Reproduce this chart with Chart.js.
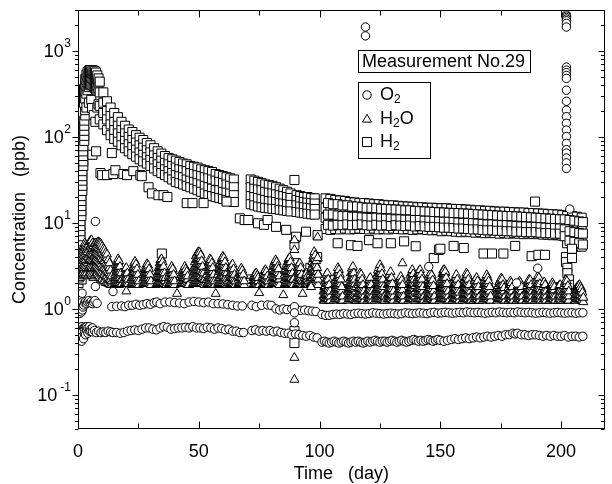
<!DOCTYPE html>
<html>
<head>
<meta charset="utf-8">
<script src="https://cdn.jsdelivr.net/npm/chart.js@4.4.0/dist/chart.umd.min.js"></script>
<style>
  html, body { margin: 0; padding: 0; background: #fff; }
  #c { display: block; }
</style>
</head>
<body>
<canvas id="c" width="612" height="484"></canvas>
<script>
// axis ranges and ticks
var xMin = 0, xMax = 218;
var yMin = 0.04, yMax = 3000;
var xMajor = [0, 50, 100, 150, 200];
var xMinor = [25, 75, 125, 175];
var yExponents = [-1, 0, 1, 2, 3];

// rows are [day, reading, reading, ...] in ppb

// H2 (squares)
var h2Rise = [
  [0.2, 2.0, 2.2, 2.5, 2.8, 3.2],
  [0.6, 3.0, 3.6, 4.1, 4.7, 5.4],
  [1.0, 6.1, 7.0, 8.0, 9.2, 10.5],
  [1.4, 12, 13.7, 15.7, 18, 20.5],
  [1.8, 23.5, 27, 31, 35, 40],
  [2.2, 46, 52, 60, 68, 78],
  [2.6, 90, 103, 118, 135, 155],
  [3.0, 178, 205, 235],
  [0.5, 2.4, 3.8], [1.5, 2.2, 2.9]
];
var h2Peak = [
  [2.5, 250, 300, 360],
  [3.0, 280, 340, 410, 470],
  [3.5, 320, 390, 460, 530],
  [4.0, 350, 430, 500, 570],
  [4.5, 380, 460, 530, 590],
  [5.0, 400, 480, 550, 600],
  [5.5, 410, 490, 560, 600],
  [6.0, 400, 480, 550, 595],
  [6.5, 390, 470, 540, 590],
  [7.0, 370, 450, 520, 580],
  [7.5, 350, 430, 500, 560],
  [8.0, 320, 400, 470, 520],
  [8.5, 300, 370, 430, 480],
  [3.5, 220], [4.5, 250], [5.5, 270], [5.8, 217], [6.5, 180], [7.2, 150], [8.0, 220], [8.5, 240]
];
var h2Band = [
  [9, 440, 330, 230, 160], [10.5, 330, 250, 190, 140], [12, 260, 200, 160, 120],
  [13.5, 220, 175, 140, 105], [15, 190, 150, 120, 95], [16.5, 170, 135, 110, 88],
  [18, 150, 120, 100, 80], [19.5, 135, 110, 90, 74], [21, 122, 100, 82, 68],
  [22.5, 114, 92, 76, 63], [24, 105, 86, 71, 59], [25.5, 98, 80, 66, 55],
  [27, 92, 75, 62, 52], [28.5, 85, 70, 58, 49], [30, 80, 66, 54, 46],
  [31.5, 74, 61, 51, 43], [33, 68, 57, 48, 40], [34.5, 64, 53, 45, 38],
  [36, 60, 50, 42, 36], [37.5, 57, 48, 40, 34], [39, 55, 46, 38, 32],
  [40.5, 53, 44, 36, 30], [42, 51, 42, 35, 29], [43.5, 49, 41, 34, 28],
  [45, 48, 40, 32, 27], [46.5, 46, 38, 31, 26], [48, 45, 37, 30, 25],
  [49.5, 44, 36, 29, 24], [51, 42, 35, 28, 23], [52.5, 41, 34, 27, 22],
  [54, 40, 33, 26, 21], [55.5, 39, 32, 25, 20.5], [57, 37, 31, 24, 20],
  [58.5, 36, 30, 24, 19.5], [60, 35, 29, 23, 19], [61.5, 34, 28, 22.5, 18.5],
  [63, 33, 27, 22, 18], [64.5, 32, 26, 21, 17.5],
  [71.5, 32, 26, 20.5, 16.5], [73, 31, 25, 20, 16], [74.5, 30, 24.5, 19.5, 15.5],
  [76, 29, 24, 19, 15.2], [77.5, 28, 23, 18.5, 15], [79, 27.5, 22.5, 18, 14.8],
  [80.5, 27, 22, 17.8, 14.6], [82, 26, 21.5, 17.5, 14.5], [83.5, 25, 21, 17, 14.2],
  [85, 24, 20.5, 16.8, 14], [86.5, 23, 20, 16.5, 13.8], [88, 22, 19.5, 16.2, 13.6],
  [90.5, 21, 18.5, 16, 13.4], [92, 20.5, 18, 15.5, 13.2], [93.5, 20, 17.5, 15.2, 13],
  [95, 20, 17.2, 15, 12.8], [96.5, 19.5, 17, 14.8, 12.6], [98, 19.3, 16.8, 14.5, 12.5],
  [102.5, 19.3, 15, 11.5, 8.5], [104.5, 19, 14.5, 11, 8.3], [106.5, 18.5, 14.5, 11, 8.5],
  [108.5, 18.2, 14, 10.8, 8.4], [110.5, 18, 14, 11, 8.6], [112.5, 17.5, 13.8, 10.5, 8.4],
  [114.5, 17.3, 13.5, 10.5, 8.5], [116.5, 17, 13.5, 10.8, 8.6], [118.5, 17, 13.2, 10.5, 8.5],
  [120.5, 16.8, 13, 10.3, 8.4], [122.5, 16.5, 13, 10.5, 8.6], [124.5, 16.5, 12.8, 10.2, 8.4],
  [126.5, 16.2, 12.8, 10.3, 8.5], [128.5, 16, 12.5, 10, 8.4], [130.5, 16, 12.5, 10.2, 8.6],
  [132.5, 15.8, 12.4, 10, 8.5], [134.5, 15.6, 12.3, 10, 8.4], [136.5, 15.5, 12.2, 10.1, 8.5],
  [138.5, 15.4, 12.2, 9.9, 8.3], [140.5, 15.2, 12, 9.8, 8.4], [142.5, 15.2, 12, 10, 8.5],
  [144.5, 15, 11.8, 9.8, 8.3], [146.5, 15, 11.8, 9.7, 8.2], [148.5, 14.9, 11.6, 9.6, 8.3],
  [150.5, 14.8, 11.5, 9.5, 8], [152.5, 14.8, 11.5, 9.6, 8.1], [154.5, 14.6, 11.4, 9.4, 8],
  [156.5, 14.5, 11.3, 9.3, 7.9], [158.5, 14.5, 11.2, 9.2, 7.8], [160.5, 14.3, 11, 9.2, 7.9],
  [162.5, 14.2, 11, 9, 7.8], [164.5, 14, 10.8, 9, 7.7], [166.5, 14, 10.8, 8.9, 7.8],
  [168.5, 13.8, 10.6, 8.8, 7.6], [170.5, 13.8, 10.5, 8.8, 7.7], [172.5, 13.6, 10.5, 8.7, 7.6],
  [174.5, 13.5, 10.4, 8.6, 7.5], [176.5, 13.5, 10.3, 8.6, 7.6], [178.5, 13.4, 10.2, 8.5, 7.5],
  [180.5, 13.3, 10.2, 8.5, 7.6], [182.5, 13.2, 10, 8.4, 7.5], [184.5, 13.2, 10, 8.4, 7.4],
  [186.5, 13, 9.9, 8.3, 7.5], [188.5, 13, 9.8, 8.2, 7.4], [190.5, 12.9, 9.8, 8.2, 7.5],
  [192.5, 12.8, 9.7, 8.1, 7.3], [194.5, 12.7, 9.6, 8, 7.3], [196.5, 12.6, 9.5, 8, 7.2],
  [198.5, 12.5, 9.5, 7.9, 7.2], [200.5, 12.3, 9.4, 7.8, 7.1], [202.5, 12, 9, 7, 5.8],
  [204.5, 12, 8.8, 6.8, 5.5], [206.5, 11.8, 8.6, 6.6, 5.3], [208.5, 11.5, 8.5, 6.5, 5.3]
];
var h2BandMid = [
  [103.5, 17, 12.5, 9.5], [105.5, 16.5, 12.5, 9.3], [107.5, 16.5, 12.2, 9.5], [109.5, 16, 12, 9.4],
  [111.5, 16, 12, 9.6], [113.5, 15.5, 11.8, 9.4], [115.5, 15.5, 11.8, 9.5], [117.5, 15.2, 11.6, 9.6],
  [119.5, 15, 11.5, 9.4], [121.5, 15, 11.4, 9.3], [123.5, 14.8, 11.5, 9.5], [125.5, 14.6, 11.3, 9.3],
  [127.5, 14.5, 11.2, 9.4], [129.5, 14.4, 11.2, 9.2], [131.5, 14.3, 11, 9.4], [133.5, 14.2, 11, 9.3],
  [135.5, 14, 10.9, 9.2], [137.5, 14, 10.9, 9.3], [139.5, 13.8, 10.8, 9.1], [141.5, 13.7, 10.8, 9.2],
  [143.5, 13.6, 10.6, 9.1], [145.5, 13.5, 10.6, 9], [147.5, 13.4, 10.5, 9], [149.5, 13.3, 10.4, 8.9],
  [151.5, 13.2, 10.3, 8.8], [153.5, 13.1, 10.3, 8.8], [155.5, 13, 10.2, 8.7], [157.5, 13, 10.1, 8.6],
  [159.5, 12.9, 10, 8.6], [161.5, 12.8, 10, 8.5], [163.5, 12.7, 9.9, 8.4], [165.5, 12.6, 9.8, 8.4],
  [167.5, 12.5, 9.7, 8.3], [169.5, 12.4, 9.6, 8.2], [171.5, 12.3, 9.6, 8.2], [173.5, 12.2, 9.5, 8.1],
  [175.5, 12.1, 9.4, 8.1], [177.5, 12, 9.4, 8], [179.5, 12, 9.3, 8], [181.5, 11.9, 9.2, 7.9],
  [183.5, 11.8, 9.1, 7.9], [185.5, 11.7, 9.1, 7.8], [187.5, 11.6, 9, 7.8], [189.5, 11.5, 9, 7.8],
  [191.5, 11.4, 8.9, 7.7], [193.5, 11.3, 8.8, 7.6], [195.5, 11.2, 8.7, 7.6], [197.5, 11.1, 8.7, 7.5],
  [199.5, 11, 8.6, 7.5], [201.5, 11, 8.4, 7], [203.5, 10.8, 8, 6.2], [205.5, 10.6, 7.8, 6],
  [207.5, 10.4, 7.6, 5.8], [209, 10.2, 7.5, 5.6]
];
var h2Low = [
  [6, 62], [7.5, 68], [14, 65], [9.3, 38], [10, 36], [12, 36], [14.6, 37], [15.5, 41],
  [18.8, 37], [20.3, 36], [22.9, 40], [25.8, 36], [26.4, 35], [29.2, 26], [30.6, 22],
  [33.3, 21], [35.4, 21], [37, 20], [45, 17], [47.4, 17], [52, 17], [61.5, 17.7],
  [67, 11.3], [69, 10.8], [70.5, 10.8], [74.5, 9.9], [77, 9.5], [78.5, 10.8], [82, 9],
  [86.2, 8.3], [90.3, 6.9], [94.4, 7.9], [99.2, 7.2], [107.5, 5.8], [113, 5.5], [115.7, 5.4],
  [120.5, 6.3], [124, 5.8], [129.5, 5.8], [135, 6.1], [139.8, 5.35], [147.3, 3.9], [149.4, 4.85],
  [150, 5], [155.5, 5.4], [159.7, 5.1], [167.9, 4.4], [171.4, 4.4], [176.1, 4.4], [181, 5.4],
  [187.8, 4.1], [190.6, 4.25], [193.3, 4.25]
];
var h2Base = [
  [9.3, 3.4], [13, 2.3, 2.05], [17, 2.2, 2.0], [22.5, 2.2, 2.0], [27.5, 2.3, 2.05], [32, 2.2, 2.0],
  [36.5, 2.2, 2.0], [41.5, 2.3, 2.05], [46, 2.2, 2.0], [50, 2.3, 2.05], [54.5, 2.2, 2.0],
  [59, 2.2, 2.0], [63.5, 2.3, 2.05], [66, 2.3], [71, 2.2, 2.0], [75.5, 2.2], [80, 2.3, 2.05],
  [85, 2.2, 2.0], [88, 2.0], [93, 2.1],
  [105, 1.6], [110.5, 1.7], [121, 1.8, 1.55], [127.5, 1.6], [133, 1.75, 1.5], [140, 1.6],
  [146.5, 1.8, 1.55], [155, 1.6], [163, 2.0, 1.7], [170, 1.6], [176, 1.9, 1.6], [182, 1.6],
  [188.5, 2.0, 1.7], [195, 1.6], [200, 1.8, 1.55]
];
var h2Extra = [
  [34.7, 4.4], [89.6, 31.6, 5.55, 3.4, 0.55, 0.4], [96.2, 3.0], [99, 4.0], [189.2, 17.7],
  [202, 4.0, 3.5], [202.6, 3.0, 2.6], [203.2, 2.2, 1.9], [204.5, 3.9, 5.0]
];

// H2O (triangles)
var h2oEarly = [
  [0.4, 2.2, 2.5, 2.8], [0.8, 2.3, 2.7, 3.1, 3.5], [1.2, 2.4, 2.9, 3.4, 3.9],
  [1.6, 2.5, 3.0, 3.6, 4.3], [2.0, 2.6, 3.1, 3.7, 4.4, 5.0], [2.4, 2.5, 3.0, 3.6, 4.2, 4.9, 5.4],
  [2.8, 2.6, 3.2, 3.8, 4.5, 5.2, 5.8], [3.2, 2.5, 3.1, 3.7, 4.4, 5.1, 5.6],
  [3.6, 2.6, 3.0, 3.5, 4.1, 4.8, 5.4], [4.0, 2.4, 2.9, 3.4, 4.0, 4.6, 5.2],
  [4.4, 2.5, 3.0, 3.6, 4.2, 4.9, 5.6], [4.8, 2.6, 3.1, 3.7, 4.4, 5.2, 6.0],
  [5.2, 2.6, 3.2, 3.8, 4.5, 5.3, 6.2], [5.6, 2.5, 3.1, 3.7, 4.4, 5.2, 6.3],
  [6.0, 2.4, 3.0, 3.6, 4.3, 5.0, 5.8], [6.4, 2.3, 2.9, 3.5, 4.1, 4.8, 5.4],
  [6.8, 2.4, 3.0, 3.6, 4.2, 5.0, 5.7], [7.2, 2.5, 3.1, 3.7, 4.4, 5.1, 5.8],
  [7.6, 2.6, 3.2, 3.8, 4.5, 5.3], [8.0, 2.6, 3.1, 3.7, 4.4, 5.2, 5.9],
  [8.4, 2.5, 3.0, 3.6, 4.3, 5.1, 6.0], [8.8, 2.4, 2.9, 3.5, 4.2, 5.0, 5.9],
  [9.2, 2.3, 2.8, 3.4, 4.1, 4.9, 5.8], [9.6, 2.2, 2.7, 3.3, 4.0, 4.8, 5.6],
  [10.0, 2.2, 2.6, 3.1, 3.8, 4.5, 5.3], [10.5, 2.1, 2.5, 3.0, 3.6, 4.3, 5.0],
  [11.0, 2.1, 2.5, 3.0, 3.6, 4.2, 4.8], [11.5, 2.0, 2.4, 2.9, 3.4, 4.0, 4.5],
  [12.0, 2.0, 2.4, 2.8, 3.3, 3.9, 4.3], [12.5, 2.0, 2.3, 2.7, 3.2, 3.7],
  [13.0, 1.95, 2.2, 2.6, 3.0, 3.4], [13.5, 1.9, 2.2, 2.5, 2.8], [14.0, 1.9, 2.1, 2.4],
  [15.0, 1.95, 2.2], [15.4, 1.95, 2.2, 2.5], [15.8, 2.0, 2.3, 2.6, 3.0],
  [16.2, 2.0, 2.3, 2.7, 3.1, 3.5], [16.6, 2.0, 2.3, 2.7, 3.1, 3.5, 3.8],
  [17.0, 2.0, 2.3, 2.7, 3.1, 3.6], [17.4, 2.0, 2.3, 2.7, 3.1], [17.8, 1.95, 2.2, 2.6], [18.2, 1.95, 2.2],
  [19.2, 1.95, 2.2, 2.5], [19.6, 2.0, 2.3, 2.6, 2.9], [20.0, 1.6, 2.0, 2.3, 2.6, 3.0],
  [20.4, 2.0, 2.3, 2.6], [20.8, 1.95, 2.2],
  [22.0, 1.95, 2.2], [22.4, 2.0, 2.3, 2.6], [22.8, 2.0, 2.3, 2.6, 3.0],
  [23.2, 2.0, 2.3, 2.7, 3.1, 3.4], [23.6, 2.0, 2.3, 2.7, 3.1, 3.55], [24.0, 2.0, 2.3, 2.6, 3.0, 3.3],
  [24.4, 2.0, 2.3, 2.6, 2.9], [24.8, 1.95, 2.2, 2.5], [25.2, 1.9, 2.1],
  [27.0, 1.95, 2.2], [27.4, 2.0, 2.3, 2.6], [27.8, 2.0, 2.3, 2.6, 2.9],
  [28.2, 2.0, 2.3, 2.6, 3.0, 3.2], [28.6, 2.0, 2.3, 2.6, 2.9, 3.33], [29.0, 2.0, 2.3, 2.6, 3.0, 3.2],
  [29.4, 2.0, 2.3, 2.6, 2.9], [29.8, 1.95, 2.2, 2.5], [30.2, 1.9, 2.1],
  [32.6, 1.95, 2.2], [33.0, 2.0, 2.3, 2.6], [33.4, 2.0, 2.3, 2.7, 3.0],
  [33.8, 2.0, 2.3, 2.7, 3.1, 3.4], [34.2, 2.0, 2.3, 2.7, 3.1, 3.5, 3.7],
  [34.6, 2.0, 2.3, 2.7, 3.1, 3.5, 3.8], [35.0, 2.0, 2.3, 2.7, 3.1, 3.5],
  [35.4, 2.0, 2.3, 2.7, 3.1], [35.8, 1.95, 2.2, 2.6], [36.2, 1.9, 2.1, 2.3], [36.6, 1.9],
  [37.6, 1.95, 2.2, 2.4], [38.0, 2.0, 2.3, 2.6], [38.4, 2.0, 2.3, 2.6, 2.9],
  [38.8, 2.0, 2.3, 2.6, 2.85, 3.1], [39.2, 2.0, 2.3, 2.6, 2.9], [39.6, 1.95, 2.2, 2.5], [40.0, 1.9, 2.1],
  [41.0, 1.5],
  [42.6, 1.95, 2.2], [43.0, 2.0, 2.3, 2.5], [43.4, 2.0, 2.3, 2.6, 2.8], [43.8, 2.0, 2.3, 2.6, 2.9],
  [44.2, 2.0, 2.3, 2.6, 2.85, 3.1], [44.6, 2.0, 2.3, 2.6, 2.9], [45.0, 1.95, 2.2, 2.5, 2.7],
  [45.4, 1.9, 2.2, 2.4], [45.8, 1.9],
  [47.6, 1.95, 2.2, 2.5], [48.0, 2.0, 2.3, 2.6, 3.0], [48.4, 2.0, 2.3, 2.7, 3.1, 3.5],
  [48.8, 2.0, 2.4, 2.8, 3.2, 3.7, 4.1], [49.2, 2.0, 2.4, 2.8, 3.3, 3.8, 4.3],
  [49.6, 2.0, 2.4, 2.8, 3.3, 3.9, 4.5], [50.0, 2.0, 2.4, 2.8, 3.3, 3.9, 4.6],
  [50.4, 2.0, 2.4, 2.8, 3.3, 3.9, 4.5], [50.8, 2.0, 2.4, 2.8, 3.3, 3.8, 4.2],
  [51.2, 2.0, 2.3, 2.7, 3.2, 3.6], [51.6, 1.95, 2.3, 2.7, 3.1], [52.0, 1.95, 2.2, 2.6], [52.4, 1.9, 2.2],
  [53.4, 1.95, 2.2, 2.5], [53.8, 2.0, 2.3, 2.7, 3.0], [54.2, 2.0, 2.3, 2.7, 3.1, 3.4],
  [54.6, 2.0, 2.3, 2.7, 3.1, 3.5, 3.8], [55.0, 2.0, 2.3, 2.7, 3.1, 3.5, 3.7],
  [55.4, 2.0, 2.3, 2.7, 3.1, 3.4], [55.8, 1.95, 2.3, 2.7, 3.0], [56.2, 1.9, 2.2, 2.5], [56.6, 1.9, 2.1],
  [57.0, 1.5],
  [58.0, 1.95, 2.2, 2.5], [58.4, 2.0, 2.3, 2.7, 3.0], [58.8, 2.0, 2.3, 2.7, 3.1, 3.4],
  [59.2, 2.0, 2.4, 2.8, 3.2, 3.6], [59.6, 2.0, 2.4, 2.8, 3.2, 3.6, 3.9],
  [60.0, 2.0, 2.4, 2.8, 3.2, 3.6, 4.06], [60.4, 2.0, 2.4, 2.8, 3.2, 3.6, 3.9],
  [60.8, 2.0, 2.3, 2.7, 3.1, 3.5], [61.2, 1.95, 2.3, 2.7, 3.0], [61.6, 1.9, 2.2, 2.6], [62.0, 1.9, 2.1],
  [62.8, 1.95, 2.2, 2.5], [63.2, 2.0, 2.3, 2.6, 2.9], [63.6, 2.0, 2.3, 2.6, 3.0, 3.2],
  [64.0, 2.0, 2.3, 2.6, 3.0, 3.3], [64.4, 2.0, 2.3, 2.6, 2.9], [64.8, 1.95, 2.2, 2.5], [65.2, 1.9, 2.1],
  [66.4, 1.95, 2.2, 2.4], [66.8, 2.0, 2.3, 2.6], [67.2, 2.0, 2.3, 2.6, 2.8],
  [67.6, 2.0, 2.3, 2.6, 2.97], [68.0, 2.0, 2.3, 2.6, 2.8], [68.4, 1.95, 2.2, 2.5], [68.8, 1.9, 2.1],
  [72.6, 1.9, 2.1, 2.3], [73.0, 1.9, 2.1, 2.3, 2.45], [73.4, 1.95, 2.15, 2.35, 2.55],
  [73.8, 1.95, 2.15, 2.35, 2.6], [74.2, 1.9, 2.1, 2.3, 2.45], [74.6, 1.9, 2.1, 2.3], [75.0, 1.53, 1.9],
  [76.4, 1.9, 2.1, 2.35], [76.8, 1.95, 2.2, 2.45, 2.6], [77.2, 2.0, 2.25, 2.5, 2.75],
  [77.6, 2.0, 2.25, 2.5, 2.84], [78.0, 1.95, 2.2, 2.45, 2.7], [78.4, 1.9, 2.15, 2.4], [78.8, 1.9, 2.1],
  [80.2, 1.95, 2.2, 2.5], [80.6, 2.0, 2.3, 2.6, 2.9], [81.0, 2.0, 2.3, 2.7, 3.1, 3.3],
  [81.4, 2.0, 2.3, 2.7, 3.1, 3.5], [81.8, 2.0, 2.3, 2.7, 3.1, 3.5, 3.7],
  [82.2, 2.0, 2.3, 2.7, 3.1, 3.5], [82.6, 2.0, 2.3, 2.7, 3.1], [83.0, 1.95, 2.2, 2.6, 2.9],
  [83.4, 1.9, 2.2, 2.4],
  [85.0, 1.45], [85.6, 1.95, 2.2, 2.5], [86.0, 2.0, 2.3, 2.6, 2.9], [86.4, 2.0, 2.3, 2.7, 3.1, 3.3],
  [86.8, 2.0, 2.3, 2.7, 3.1, 3.5], [87.2, 2.0, 2.3, 2.7, 3.1, 3.5, 3.8],
  [87.6, 2.0, 2.3, 2.7, 3.1, 3.5, 3.9], [88.0, 2.0, 2.3, 2.7, 3.1, 3.5],
  [88.4, 2.0, 2.3, 2.7, 3.0], [88.8, 1.95, 2.2, 2.6], [89.2, 1.9, 2.2],
  [90.6, 1.95, 2.2, 2.6], [91.0, 2.0, 2.3, 2.7, 3.0], [91.4, 2.0, 2.3, 2.7, 3.1, 3.3],
  [91.8, 2.0, 2.3, 2.7, 3.1, 3.4], [92.2, 2.0, 2.3, 2.7, 3.0], [92.6, 1.95, 2.2, 2.5],
  [93.0, 1.5, 1.9, 2.1],
  [93.8, 1.9, 2.1, 2.3], [94.2, 1.95, 2.15, 2.4], [94.6, 1.95, 2.2, 2.45, 2.6],
  [95.0, 1.95, 2.2, 2.4], [95.4, 1.9, 2.1],
  [96.2, 1.95, 2.2, 2.5], [96.6, 2.0, 2.3, 2.7, 3.0], [97.0, 2.0, 2.3, 2.7, 3.1, 3.5],
  [97.4, 2.0, 2.4, 2.8, 3.3, 3.8, 4.1], [97.8, 2.0, 2.4, 2.8, 3.3, 3.9, 4.6],
  [98.2, 2.0, 2.4, 2.8, 3.3, 3.8, 4.2], [98.6, 2.0, 2.3, 2.7, 3.2, 3.6],
  [99.0, 1.95, 2.3, 2.7, 3.0], [99.4, 1.9, 2.2, 2.5]
];
var h2oLate = [
  [101.6, 1.25, 1.4, 1.6], [102.0, 1.25, 1.4, 1.6, 1.8], [102.4, 1.3, 1.45, 1.65, 1.85, 2.1],
  [102.8, 1.3, 1.5, 1.7, 1.95, 2.2, 2.5], [103.2, 1.3, 1.5, 1.7, 1.95, 2.25, 2.6],
  [103.6, 1.3, 1.5, 1.7, 1.95, 2.2], [104.0, 1.25, 1.45, 1.65, 1.9], [104.4, 1.25, 1.4, 1.6],
  [106.0, 1.25, 1.4, 1.6], [106.4, 1.3, 1.45, 1.65, 1.9], [106.8, 1.3, 1.5, 1.7, 1.95, 2.2],
  [107.2, 1.3, 1.5, 1.75, 2.0, 2.3, 2.6], [107.6, 1.3, 1.5, 1.75, 2.0, 2.3, 2.65, 3.0],
  [108.0, 1.3, 1.5, 1.75, 2.0, 2.3, 2.6, 2.84], [108.4, 1.3, 1.5, 1.75, 2.0, 2.3, 2.5],
  [108.8, 1.25, 1.45, 1.7, 1.95, 2.2], [109.2, 1.25, 1.4, 1.6, 1.8], [109.6, 1.25, 1.4],
  [111.8, 1.25, 1.4, 1.6], [112.2, 1.3, 1.45, 1.65, 1.9], [112.6, 1.3, 1.5, 1.7, 1.95, 2.2],
  [113.0, 1.3, 1.5, 1.75, 2.0, 2.3, 2.6], [113.4, 1.3, 1.5, 1.75, 2.0, 2.3, 2.65, 2.95],
  [113.8, 1.3, 1.5, 1.75, 2.0, 2.3, 2.65, 3.1], [114.2, 1.3, 1.5, 1.75, 2.0, 2.3, 2.6],
  [114.6, 1.25, 1.45, 1.7, 1.95, 2.2], [115.0, 1.25, 1.4, 1.6, 1.8], [115.4, 1.25, 1.4],
  [116.0, 1.3, 1.5, 1.7, 1.9], [116.4, 1.3, 1.5, 1.75, 2.0, 2.3], [116.8, 1.3, 1.5, 1.75, 2.0, 2.3, 2.6],
  [117.2, 1.3, 1.5, 1.75, 2.0, 2.3, 2.5], [117.6, 1.3, 1.5, 1.7, 1.95, 2.2],
  [118.0, 1.25, 1.45, 1.65, 1.9], [118.4, 1.25, 1.4, 1.6],
  [119.8, 1.25, 1.4, 1.6], [120.2, 1.3, 1.45, 1.65, 1.9], [120.6, 1.3, 1.5, 1.7, 1.95, 2.2],
  [121.0, 1.3, 1.5, 1.7, 1.95, 2.3], [121.4, 1.3, 1.45, 1.65, 1.9], [121.8, 1.25, 1.4, 1.6],
  [123.0, 1.25, 1.4, 1.6], [123.4, 1.3, 1.45, 1.65, 1.9], [123.8, 1.3, 1.5, 1.7, 1.95, 2.2, 2.45],
  [124.2, 1.3, 1.5, 1.75, 2.0, 2.3, 2.6, 2.8], [124.6, 1.3, 1.5, 1.75, 2.0, 2.3, 2.65, 3.0],
  [125.0, 1.3, 1.5, 1.75, 2.0, 2.3, 2.65, 3.25], [125.4, 1.3, 1.5, 1.75, 2.0, 2.3, 2.65, 2.95],
  [125.8, 1.3, 1.5, 1.75, 2.0, 2.3, 2.55], [126.2, 1.25, 1.45, 1.7, 1.95, 2.2],
  [126.6, 1.25, 1.4, 1.6, 1.8], [127.0, 1.25, 1.4],
  [128.2, 1.3, 1.45, 1.65, 1.9], [128.6, 1.3, 1.5, 1.7, 1.95, 2.2], [129.0, 1.3, 1.5, 1.75, 2.0, 2.3, 2.5],
  [129.4, 1.3, 1.5, 1.75, 2.0, 2.3, 2.7], [129.8, 1.3, 1.5, 1.75, 2.0, 2.3],
  [130.2, 1.25, 1.45, 1.7, 1.95], [130.6, 1.25, 1.4, 1.6],
  [132.4, 1.25, 1.4, 1.6], [132.8, 1.3, 1.45, 1.65, 1.9], [133.2, 1.3, 1.5, 1.7, 1.95, 2.2],
  [133.6, 1.3, 1.5, 1.7, 1.95, 2.2, 2.37], [134.0, 1.3, 1.5, 1.7, 1.95, 2.15],
  [134.4, 1.25, 1.45, 1.65, 1.9], [134.8, 1.25, 1.4],
  [136.8, 1.25, 1.4, 1.6], [137.2, 1.3, 1.45, 1.65, 1.9], [137.6, 1.3, 1.5, 1.7, 1.95, 2.2, 2.45],
  [138.0, 1.3, 1.5, 1.75, 2.0, 2.3, 2.6], [138.4, 1.3, 1.5, 1.75, 2.0, 2.3, 2.6, 2.84],
  [138.8, 1.3, 1.5, 1.75, 2.0, 2.3, 2.55], [139.2, 1.25, 1.45, 1.7, 1.95, 2.2],
  [139.6, 1.25, 1.4, 1.6, 1.85],
  [140.4, 1.3, 1.5, 1.7, 1.95, 2.2], [140.8, 1.3, 1.5, 1.75, 2.0, 2.3, 2.55],
  [141.2, 1.3, 1.5, 1.75, 2.0, 2.3, 2.6, 2.75], [141.6, 1.3, 1.5, 1.75, 2.0, 2.3, 2.6, 2.84],
  [142.0, 1.3, 1.5, 1.75, 2.0, 2.3, 2.5], [142.4, 1.25, 1.45, 1.7, 1.95, 2.2],
  [142.8, 1.25, 1.4, 1.6, 1.8], [143.2, 1.25, 1.4],
  [144.4, 1.25, 1.4, 1.6], [144.8, 1.3, 1.45, 1.65, 1.9], [145.2, 1.3, 1.5, 1.7, 1.95, 2.2],
  [145.6, 1.3, 1.5, 1.75, 2.0, 2.3, 2.5], [146.0, 1.3, 1.5, 1.75, 2.0, 2.3, 2.6],
  [146.4, 1.3, 1.5, 1.75, 2.0, 2.3, 2.45], [146.8, 1.25, 1.45, 1.7, 1.95, 2.15],
  [147.2, 1.25, 1.4, 1.6, 1.85], [147.6, 1.25, 1.4],
  [149.6, 1.25, 1.4, 1.6], [150.0, 1.3, 1.45, 1.65, 1.9], [150.4, 1.3, 1.5, 1.7, 1.95, 2.2],
  [150.8, 1.3, 1.5, 1.75, 2.0, 2.3, 2.55], [151.2, 1.3, 1.5, 1.75, 2.0, 2.3, 2.6, 2.8],
  [151.6, 1.3, 1.5, 1.75, 2.0, 2.3, 2.6, 2.84], [152.0, 1.3, 1.5, 1.75, 2.0, 2.3, 2.6, 2.7],
  [152.4, 1.3, 1.5, 1.75, 2.0, 2.3], [152.8, 1.25, 1.45, 1.7, 1.95], [153.2, 1.25, 1.4, 1.6], [153.6, 1.25],
  [155.0, 1.25, 1.4, 1.6], [155.4, 1.3, 1.45, 1.65, 1.9], [155.8, 1.3, 1.5, 1.7, 1.95, 2.2],
  [156.2, 1.3, 1.5, 1.75, 2.0, 2.3], [156.6, 1.3, 1.5, 1.75, 2.0, 2.3, 2.5],
  [157.0, 1.3, 1.5, 1.7, 1.95, 2.2], [157.4, 1.25, 1.45, 1.65, 1.9], [157.8, 1.25, 1.4, 1.55],
  [159.2, 1.25, 1.4, 1.6], [159.6, 1.3, 1.45, 1.65, 1.9], [160.0, 1.3, 1.5, 1.7, 1.95, 2.2],
  [160.4, 1.3, 1.5, 1.75, 2.0, 2.3], [160.8, 1.3, 1.5, 1.75, 2.0, 2.3, 2.6],
  [161.2, 1.3, 1.5, 1.75, 2.0, 2.3, 2.5], [161.6, 1.3, 1.5, 1.7, 1.95, 2.2],
  [162.0, 1.25, 1.45, 1.65, 1.9], [162.4, 1.25, 1.4, 1.6], [162.8, 1.25],
  [163.8, 1.25, 1.4, 1.6, 1.8], [164.2, 1.3, 1.45, 1.65, 1.9, 2.1], [164.6, 1.3, 1.5, 1.7, 1.95, 2.2],
  [165.0, 1.3, 1.5, 1.7, 1.95, 2.3], [165.4, 1.3, 1.45, 1.65, 1.9, 2.1], [165.8, 1.25, 1.4, 1.6, 1.8],
  [166.2, 1.25, 1.4],
  [167.6, 1.25, 1.4, 1.6], [168.0, 1.3, 1.45, 1.65, 1.9], [168.4, 1.3, 1.5, 1.7, 1.95, 2.15],
  [168.8, 1.3, 1.5, 1.75, 2.0, 2.3], [169.2, 1.3, 1.5, 1.75, 2.0, 2.25, 2.48],
  [169.6, 1.3, 1.5, 1.75, 2.0, 2.3], [170.0, 1.3, 1.45, 1.7, 1.95, 2.1], [170.4, 1.25, 1.4, 1.6, 1.8],
  [170.8, 1.25, 1.4],
  [173.6, 1.25, 1.4, 1.6], [174.0, 1.3, 1.45, 1.65, 1.85], [174.4, 1.3, 1.5, 1.7, 1.95, 2.05],
  [174.8, 1.3, 1.5, 1.7, 1.95, 2.15], [175.2, 1.3, 1.5, 1.7, 1.95, 2.27],
  [175.6, 1.3, 1.5, 1.7, 1.95, 2.2], [176.0, 1.3, 1.45, 1.65, 1.9], [176.4, 1.25, 1.4, 1.6, 1.75],
  [176.8, 1.25, 1.4],
  [178.2, 1.25, 1.4, 1.6, 1.75], [178.6, 1.3, 1.45, 1.65, 1.9], [179.0, 1.3, 1.5, 1.7, 1.9, 2.1],
  [179.4, 1.3, 1.45, 1.65, 1.9, 2.0], [179.8, 1.25, 1.4, 1.6, 1.8], [180.2, 1.25, 1.4],
  [181.6, 1.25, 1.4, 1.6], [182.0, 1.3, 1.45, 1.65, 1.85], [182.4, 1.3, 1.5, 1.7, 1.9, 2.0],
  [182.8, 1.3, 1.5, 1.7, 1.9, 2.08], [183.2, 1.3, 1.45, 1.65, 1.9, 2.0], [183.6, 1.25, 1.4, 1.6, 1.8],
  [184.0, 1.25, 1.4],
  [185.6, 1.25, 1.4, 1.6], [186.0, 1.3, 1.45, 1.65, 1.85], [186.4, 1.3, 1.5, 1.7, 1.95, 2.1],
  [186.8, 1.3, 1.5, 1.7, 1.95, 2.2], [187.2, 1.3, 1.5, 1.7, 1.95, 2.15], [187.6, 1.25, 1.45, 1.65, 1.9],
  [188.0, 1.25, 1.4, 1.6],
  [189.2, 1.25, 1.4, 1.6, 1.8], [189.6, 1.3, 1.45, 1.65, 1.9, 2.1], [190.0, 1.3, 1.5, 1.7, 1.95, 2.2],
  [190.4, 1.3, 1.5, 1.75, 2.0, 2.4], [190.8, 1.3, 1.5, 1.75, 2.0, 2.3], [191.2, 1.3, 1.45, 1.7, 1.95],
  [191.6, 1.25, 1.4, 1.6],
  [192.6, 1.25, 1.4, 1.6, 1.8], [193.0, 1.3, 1.45, 1.65, 1.9, 2.05], [193.4, 1.3, 1.45, 1.65, 1.9],
  [193.8, 1.25, 1.4, 1.6],
  [195.2, 1.25, 1.4, 1.6], [195.6, 1.3, 1.45, 1.65, 1.85], [196.0, 1.3, 1.5, 1.7, 1.9],
  [196.4, 1.3, 1.5, 1.7, 1.9, 2.0], [196.8, 1.3, 1.5, 1.7, 1.9], [197.2, 1.25, 1.45, 1.65, 1.8],
  [197.6, 1.25, 1.4],
  [198.8, 1.25, 1.4, 1.6], [199.2, 1.3, 1.45, 1.65, 1.85], [199.6, 1.3, 1.45, 1.65, 1.9],
  [200.0, 1.25, 1.4, 1.6],
  [200.8, 1.25, 1.4, 1.6], [201.2, 1.3, 1.45, 1.65, 1.85], [201.6, 1.3, 1.5, 1.7, 1.95, 2.05],
  [202.0, 1.3, 1.5, 1.7, 1.95, 2.17], [202.4, 1.3, 1.5, 1.7, 1.95, 2.1], [202.8, 1.25, 1.45, 1.65, 1.85],
  [203.2, 1.25, 1.4, 1.6],
  [205.6, 1.25, 1.4, 1.55], [206.0, 1.25, 1.4, 1.6, 1.7], [206.4, 1.3, 1.45, 1.6, 1.75],
  [206.8, 1.3, 1.45, 1.65, 1.8], [207.2, 1.3, 1.45, 1.65, 1.85], [207.6, 1.3, 1.45, 1.65, 1.9],
  [208.0, 1.3, 1.45, 1.65, 1.8], [208.4, 1.25, 1.4, 1.6, 1.7], [208.8, 1.25, 1.4, 1.55], [209.2, 1.2, 1.35]
];
var h2oExtra = [
  [89.6, 6.3, 4.85, 0.27, 0.15], [99.2, 6.8, 3.9], [96.5, 1.8], [134.3, 3.4]
];

// O2 (circles)
var o2Lower = [
  [0.3, 0.47, 0.55], [0.7, 0.6, 0.44], [1.1, 0.5, 0.58], [1.5, 0.62, 0.42], [1.9, 0.48, 0.55],
  [2.3, 0.6, 0.45], [2.7, 0.52, 0.6], [3.1, 0.62, 0.5], [3.6, 0.57, 0.62], [4.1, 0.52, 0.6],
  [4.7, 0.55, 0.62], [5.3, 0.58, 0.55], [6, 0.6, 0.54], [6.8, 0.56], [7.6, 0.53], [8.5, 0.55],
  [9.5, 0.53], [10.5, 0.54], [11.5, 0.53], [12.5, 0.55], [13.5, 0.54], [14.5, 0.53], [16, 0.53],
  [17.5, 0.52], [19, 0.53], [20.5, 0.55], [22, 0.56], [23.5, 0.57], [25, 0.56], [26.5, 0.58],
  [28, 0.6], [29.5, 0.6], [31, 0.58], [32.5, 0.57], [34, 0.6], [35.5, 0.62], [37, 0.61],
  [38.5, 0.58], [40, 0.59], [41.5, 0.6], [43, 0.6], [44.5, 0.61], [46, 0.6], [47.5, 0.62],
  [49, 0.6], [50.5, 0.6], [52, 0.59], [53.5, 0.61], [55, 0.6], [56.5, 0.58], [58, 0.6],
  [59.5, 0.59], [61, 0.57], [62.5, 0.58], [64, 0.55], [65.5, 0.55], [67, 0.53], [68.5, 0.53],
  [72, 0.56], [73.5, 0.57], [75, 0.55], [76.5, 0.56], [78, 0.55], [79.5, 0.56], [81, 0.54],
  [82.5, 0.55], [84, 0.53], [85.5, 0.52], [87, 0.52], [88.5, 0.5], [90, 0.51], [91.5, 0.5],
  [93, 0.49], [94.5, 0.48], [96, 0.49], [97.5, 0.47], [99, 0.46],
  [101, 0.41], [102, 0.42], [103, 0.41], [104, 0.4], [105, 0.41], [106, 0.42], [107, 0.41],
  [108, 0.4], [109, 0.41], [110, 0.42], [111, 0.41], [112, 0.4], [113, 0.41], [114, 0.42],
  [115, 0.41], [116, 0.42], [117, 0.41], [118, 0.4], [119, 0.41], [120, 0.42], [121, 0.41],
  [122, 0.42], [123, 0.43], [124, 0.42], [125, 0.41], [126, 0.42], [127, 0.42], [128, 0.41],
  [129, 0.42], [130, 0.43], [131, 0.42], [132, 0.41], [133, 0.42], [134, 0.43], [135, 0.42],
  [136, 0.41], [137, 0.42], [138, 0.43], [139, 0.44], [140, 0.43], [141, 0.42], [142, 0.43],
  [143, 0.42], [144, 0.43], [145, 0.44], [146, 0.43], [147, 0.42], [148, 0.43], [149, 0.44],
  [150, 0.43], [151.5, 0.42], [153, 0.43], [154.5, 0.44], [156, 0.45], [157.5, 0.44],
  [159, 0.45], [160.5, 0.46], [162, 0.45], [163.5, 0.46], [165, 0.47], [166.5, 0.46],
  [168, 0.47], [169.5, 0.48], [171, 0.47], [172.5, 0.48], [174, 0.49], [175.5, 0.48],
  [177, 0.5], [178.5, 0.5], [180, 0.52], [181, 0.51], [182, 0.52], [183.5, 0.5], [185, 0.5],
  [186.5, 0.49], [188, 0.5], [189.5, 0.5], [191, 0.49], [192.5, 0.48], [194, 0.49],
  [195.5, 0.48], [197, 0.49], [198.5, 0.48], [200, 0.48], [201.5, 0.49], [203, 0.47],
  [204.5, 0.48], [206, 0.48], [207.5, 0.47], [209, 0.48]
];
var o2Upper = [
  [0.6, 0.88], [0.9, 0.95], [1.2, 1.0], [1.5, 0.92], [1.8, 0.97], [2.1, 1.05], [2.4, 1.11],
  [2.8, 1.18], [3.2, 1.22], [3.6, 1.15], [4, 1.2], [4.5, 1.25], [5, 1.18], [5.5, 1.22],
  [6, 1.15], [6.5, 1.2], [7, 1.25], [7.9, 1.16], [14, 1.06], [16, 1.07], [18, 1.08],
  [19.5, 1.06], [21, 1.1], [22.5, 1.1], [24, 1.13], [25.5, 1.1], [27, 1.12], [28.5, 1.15],
  [30, 1.13], [31.5, 1.18], [32.6, 1.2], [34, 1.15], [36, 1.2], [38, 1.2], [40, 1.18],
  [42, 1.17], [44, 1.15], [46, 1.2], [48, 1.22], [50, 1.2], [52, 1.18], [54, 1.2], [56, 1.15],
  [58, 1.15], [60, 1.14], [62, 1.12], [64, 1.1], [66, 1.08], [68, 1.08], [72, 1.1],
  [73.8, 1.06], [76, 1.1], [78.5, 1.11], [80, 1.1], [82, 1.0], [83.5, 0.97], [85, 1.0],
  [86.5, 0.98], [88.5, 1.0], [90.5, 0.97], [92, 0.96], [93.8, 0.97], [95.5, 0.95], [97, 0.94],
  [98.5, 0.93],
  [101, 0.86], [102.5, 0.84], [104, 0.84], [105.5, 0.86], [107, 0.87], [108.5, 0.86],
  [110, 0.88], [111.5, 0.87], [113, 0.86], [114.5, 0.88], [116, 0.89], [117.5, 0.88],
  [119, 0.87], [120.5, 0.88], [122, 0.9], [123.5, 0.89], [125, 0.88], [126.5, 0.87],
  [128, 0.88], [129.5, 0.89], [131, 0.88], [132.5, 0.87], [134, 0.88], [135.5, 0.9],
  [137, 0.89], [138.5, 0.88], [140, 0.89], [141.5, 0.9], [143, 0.89], [144.5, 0.88],
  [146, 0.9], [147.5, 0.91], [149, 0.89], [150.5, 0.9], [152, 0.91], [153.5, 0.9],
  [155, 0.89], [156.5, 0.9], [158, 0.91], [159.5, 0.9], [161, 0.92], [162.5, 0.91],
  [164, 0.9], [165.5, 0.91], [167, 0.9], [168.5, 0.89], [170, 0.9], [171.5, 0.91],
  [173, 0.9], [174.5, 0.92], [176, 0.91], [177.5, 0.9], [179, 0.91], [180.5, 0.9],
  [182, 0.92], [183.5, 0.91], [185, 0.9], [186.5, 0.91], [188, 0.9], [189.5, 0.89],
  [191, 0.9], [192.5, 0.91], [194, 0.9], [195.5, 0.89], [197, 0.9], [198.5, 0.91],
  [200, 0.9], [201.5, 0.89], [203, 0.9], [204.5, 0.9], [206, 0.89], [207.5, 0.9], [209, 0.9]
];
var o2Extra = [
  [0.3, 1.45], [1.7, 1.52], [7.2, 1.82, 10.4], [14.5, 1.59], [89.6, 1.06, 0.9, 0.69],
  [119, 1900, 1500], [145.2, 3.1], [181.6, 2.0], [190.3, 2.97], [203.6, 14.5]
];
var o2Spike = [
  [202.2, 2640, 2550, 2450, 2350, 2250, 2100, 1900, 650, 600, 560, 520, 480, 350, 260,
   205, 172, 144, 120, 101, 84, 71, 65, 57, 50, 43]
];

function toPoints() {
  var out = [];
  for (var a = 0; a < arguments.length; a++) {
    arguments[a].forEach(function (row) {
      for (var i = 1; i < row.length; i++) out.push({ x: row[0], y: row[i] });
    });
  }
  return out;
}

var FONT = '"Liberation Sans", Arial, Helvetica, sans-serif';
var BIG = '18px ' + FONT, SMALL = '12px ' + FONT;

function drawMarker(ctx, kind, x, y) {
  ctx.beginPath();
  if (kind === 'circle') {
    ctx.arc(x, y, 4.2, 0, Math.PI * 2);
  } else if (kind === 'triangle') {
    ctx.moveTo(x, y - 5.2);
    ctx.lineTo(x + 4.5, y + 2.6);
    ctx.lineTo(x - 4.5, y + 2.6);
    ctx.closePath();
  } else {
    ctx.rect(x - 4.5, y - 4.5, 9, 9);
  }
  ctx.fillStyle = '#fff';
  ctx.fill();
  ctx.strokeStyle = '#000';
  ctx.lineWidth = 1;
  ctx.stroke();
}

function drawSubText(ctx, parts, x, y) {
  // parts: [text, isSub]
  parts.forEach(function (p) {
    ctx.font = p[1] ? SMALL : BIG;
    ctx.fillText(p[0], x, p[1] ? y + 5 : y);
    x += ctx.measureText(p[0]).width;
  });
}

var framePlugin = {
  id: 'frame',
  afterDatasetsDraw: function (chart) {
    var ctx = chart.ctx, a = chart.chartArea;
    var xs = chart.scales.x, ys = chart.scales.y;
    var L = Math.round(a.left) + 0.5, R = Math.round(a.right) - 0.5;
    var T = Math.round(a.top) + 0.5, B = Math.round(a.bottom) - 0.5;
    ctx.save();
    ctx.strokeStyle = '#000';
    ctx.lineWidth = 1;
    ctx.strokeRect(L, T, R - L, B - T);

    // y ticks: outside on the left, inside on the right
    ctx.beginPath();
    for (var k = -2; k <= 3; k++) {
      for (var m = 1; m <= 9; m++) {
        var v = m * Math.pow(10, k);
        if (v < yMin * 0.999 || v > yMax * 1.001) continue;
        var py = Math.round(ys.getPixelForValue(v)) + 0.5;
        var len = m === 1 ? 6 : 3.5;
        ctx.moveTo(L - len, py); ctx.lineTo(L, py);
        ctx.moveTo(R, py); ctx.lineTo(R - len, py);
      }
    }
    // x ticks: inside, bottom and top
    xMajor.concat(xMinor).forEach(function (t) {
      var px = Math.round(xs.getPixelForValue(t)) + 0.5;
      var len = xMajor.indexOf(t) >= 0 ? 7 : 5;
      ctx.moveTo(px, B); ctx.lineTo(px, B - len);
      ctx.moveTo(px, T); ctx.lineTo(px, T + len);
    });
    ctx.stroke();

    ctx.fillStyle = '#000';
    // x tick labels
    ctx.font = BIG;
    ctx.textAlign = 'center';
    ctx.textBaseline = 'middle';
    xMajor.forEach(function (t) {
      ctx.fillText(String(t), xs.getPixelForValue(t), 452);
    });
    // y tick labels 10^n
    yExponents.forEach(function (e) {
      var py = ys.getPixelForValue(Math.pow(10, e));
      var ex = String(e);
      ctx.font = SMALL;
      var ew = ctx.measureText(ex).width;
      ctx.textAlign = 'left';
      ctx.fillText(ex, 71 - ew, py - 7);
      ctx.font = BIG;
      ctx.textAlign = 'right';
      ctx.fillText('10', 71 - ew - (e < 0 ? 3 : 0.5), py + 1);
    });
    // axis titles
    ctx.font = BIG;
    ctx.textAlign = 'center';
    ctx.fillText('Time   (day)', (a.left + a.right) / 2, 474);
    ctx.save();
    ctx.translate(20, (a.top + a.bottom) / 2);
    ctx.rotate(-Math.PI / 2);
    ctx.fillText('Concentration   (ppb)', 0, 0);
    ctx.restore();

    // title box
    ctx.fillStyle = '#fff';
    ctx.fillRect(358, 50, 173, 22);
    ctx.strokeRect(358.5, 50.5, 172, 22);
    ctx.fillStyle = '#000';
    ctx.textAlign = 'left';
    ctx.font = BIG;
    ctx.fillText('Measurement No.29', 362, 62);

    // legend box
    ctx.fillStyle = '#fff';
    ctx.fillRect(358, 82, 72, 76);
    ctx.strokeRect(358.5, 82.5, 72, 76);
    var rows = [
      ['circle', [['O', 0], ['2', 1]], 95],
      ['triangle', [['H', 0], ['2', 1], ['O', 0]], 119],
      ['rect', [['H', 0], ['2', 1]], 142]
    ];
    rows.forEach(function (r) {
      drawMarker(ctx, r[0], 367, r[2] + (r[0] === 'triangle' ? 0.5 : 0));
      ctx.fillStyle = '#000';
      drawSubText(ctx, r[1], 380, r[2]);
    });
    ctx.restore();
  }
};

var baseStyle = { backgroundColor: '#fff', borderColor: '#000', borderWidth: 1 };

new Chart(document.getElementById('c').getContext('2d'), {
  type: 'scatter',
  data: {
    datasets: [
      Object.assign({ label: 'O2', data: toPoints(o2Lower, o2Upper, o2Extra, o2Spike),
        pointStyle: 'circle', pointRadius: 4.2, order: 0 }, baseStyle),
      Object.assign({ label: 'H2O', data: toPoints(h2oEarly, h2oLate, h2oExtra),
        pointStyle: 'triangle', pointRadius: 5.2, order: 1 }, baseStyle),
      Object.assign({ label: 'H2', data: toPoints(h2Rise, h2Peak, h2Band, h2BandMid, h2Low, h2Base, h2Extra),
        pointStyle: 'rect', pointRadius: 6.4, order: 2 }, baseStyle)
    ]
  },
  options: {
    responsive: false,
    animation: false,
    events: [],
    layout: { padding: { left: 78, top: 10, right: 5, bottom: 55 } },
    scales: {
      x: { type: 'linear', display: false, min: xMin, max: xMax },
      y: { type: 'logarithmic', display: false, min: yMin, max: yMax }
    },
    plugins: { legend: { display: false }, tooltip: { enabled: false } }
  },
  plugins: [framePlugin]
});
</script>
</body>
</html>
